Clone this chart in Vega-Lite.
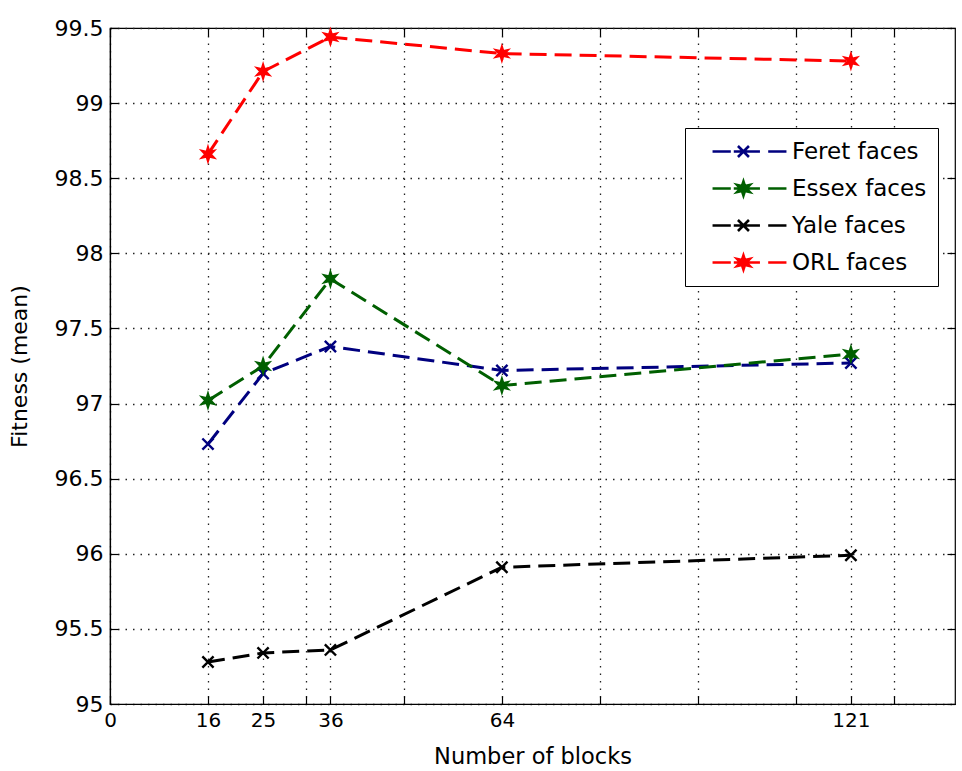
{
  "$schema": "https://vega.github.io/schema/vega-lite/v6.json",
  "width": 845,
  "height": 676,
  "autosize": {"type": "none"},
  "padding": {"left": 110, "top": 28, "right": 7, "bottom": 67},
  "background": "white",
  "config": {
    "font": "DejaVu Sans",
    "view": {"stroke": "black", "strokeWidth": 1.2},
    "axis": {
      "domainColor": "black",
      "domainWidth": 1.2,
      "tickColor": "black",
      "tickWidth": 1.2,
      "tickSize": 8,
      "labelColor": "black",
      "titleColor": "black",
      "titleFontWeight": "normal",
      "gridColor": "#222222",
      "gridDash": [1.5, 6],
      "gridWidth": 1.3,
      "gridOpacity": 1
    }
  },
  "data": {
    "values": [
      {"blocks": 16, "fitness": 96.73, "series": "Feret faces"},
      {"blocks": 25, "fitness": 97.20, "series": "Feret faces"},
      {"blocks": 36, "fitness": 97.38, "series": "Feret faces"},
      {"blocks": 64, "fitness": 97.22, "series": "Feret faces"},
      {"blocks": 121, "fitness": 97.27, "series": "Feret faces"},
      {"blocks": 16, "fitness": 97.02, "series": "Essex faces"},
      {"blocks": 25, "fitness": 97.25, "series": "Essex faces"},
      {"blocks": 36, "fitness": 97.83, "series": "Essex faces"},
      {"blocks": 64, "fitness": 97.12, "series": "Essex faces"},
      {"blocks": 121, "fitness": 97.33, "series": "Essex faces"},
      {"blocks": 16, "fitness": 95.28, "series": "Yale faces"},
      {"blocks": 25, "fitness": 95.34, "series": "Yale faces"},
      {"blocks": 36, "fitness": 95.36, "series": "Yale faces"},
      {"blocks": 64, "fitness": 95.91, "series": "Yale faces"},
      {"blocks": 121, "fitness": 95.99, "series": "Yale faces"},
      {"blocks": 16, "fitness": 98.66, "series": "ORL faces"},
      {"blocks": 25, "fitness": 99.21, "series": "ORL faces"},
      {"blocks": 36, "fitness": 99.44, "series": "ORL faces"},
      {"blocks": 64, "fitness": 99.33, "series": "ORL faces"},
      {"blocks": 121, "fitness": 99.28, "series": "ORL faces"}
    ]
  },
  "layer": [
    {
      "mark": {"type": "line", "strokeDash": [17, 8], "strokeWidth": 3},
      "encoding": {
        "x": {
          "field": "blocks",
          "type": "quantitative",
          "scale": {"domain": [0, 138], "nice": false, "zero": false},
          "axis": {
            "values": [0, 16, 25, 32, 36, 48, 64, 80, 96, 112, 121, 128],
            "labelExpr": "indexof([0, 16, 25, 36, 64, 121], datum.value) >= 0 ? datum.label : ''",
            "labelOverlap": false,
            "labelFlush": false,
            "labelFontSize": 20,
            "labelPadding": 6,
            "ticks": false,
            "title": "Number of blocks",
            "titleFontSize": 22.5,
            "titlePadding": 15,
            "grid": true
          }
        },
        "y": {
          "field": "fitness",
          "type": "quantitative",
          "scale": {"domain": [95, 99.5], "nice": false, "zero": false},
          "axis": {
            "values": [95, 95.5, 96, 96.5, 97, 97.5, 98, 98.5, 99, 99.5],
            "format": "~g",
            "labelOverlap": false,
            "labelFlush": false,
            "labelFontSize": 22,
            "labelPadding": 7,
            "ticks": false,
            "title": "Fitness (mean)",
            "titleFontSize": 22,
            "titlePadding": 23,
            "grid": true
          }
        },
        "color": {
          "field": "series",
          "type": "nominal",
          "scale": {
            "domain": ["Feret faces", "Essex faces", "Yale faces", "ORL faces"],
            "range": ["#00007f", "#005f00", "#000000", "#ff0000"]
          },
          "legend": {
            "orient": "none",
            "legendX": 575,
            "legendY": 100,
            "title": null,
            "direction": "vertical",
            "fillColor": "white",
            "strokeColor": "black",
            "padding": 11,
            "symbolSize": 484,
            "symbolStrokeWidth": 2.6,
            "symbolOffset": 41,
            "labelFontSize": 23,
            "labelOffset": 30,
            "rowPadding": 12,
            "encode": {
              "symbols": {
                "update": {
                  "shape": {"signal": "(datum.value === 'Feret faces' || datum.value === 'Yale faces') ? 'M-3.36,0H-1.7M-1.43,0H0.95M1.7,0H3.36M-1.05,-0.5L-0.05,0.5M-1.05,0.5L-0.05,-0.5' : 'M-3.36,0H-1.7M-1.43,0H0.95M1.7,0H3.36M-0.55,-0.65L-0.41,-0.22L0.02,-0.32L-0.29,0L0.02,0.32L-0.41,0.22L-0.55,0.65L-0.69,0.22L-1.12,0.32L-0.81,0L-1.12,-0.32L-0.69,-0.22Z'"},
                  "fill": {"signal": "scale('color', datum.value)"},
                  "stroke": {"signal": "scale('color', datum.value)"},
                  "strokeDash": {"value": []},
                  "strokeWidth": {"value": 2.6}
                }
              }
            }
          }
        }
      }
    },
    {
      "transform": [{"filter": "datum.series === 'Feret faces' || datum.series === 'Yale faces'"}],
      "mark": {
        "type": "point",
        "shape": "M-0.8,-0.8L0.8,0.8M-0.8,0.8L0.8,-0.8",
        "size": 196,
        "strokeWidth": 2.4,
        "filled": false,
        "opacity": 1
      },
      "encoding": {
        "x": {
          "field": "blocks",
          "type": "quantitative",
          "axis": {
            "orient": "top",
            "offset": -676,
            "values": [0, 16, 25, 32, 36, 48, 64, 80, 96, 112, 121, 128],
            "labels": false,
            "title": null,
            "grid": false,
            "domain": false
          }
        },
        "y": {
          "field": "fitness",
          "type": "quantitative",
          "axis": {
            "orient": "right",
            "offset": -845,
            "values": [95, 95.5, 96, 96.5, 97, 97.5, 98, 98.5, 99, 99.5],
            "labels": false,
            "title": null,
            "grid": false,
            "domain": false
          }
        },
        "stroke": {
          "field": "series",
          "type": "nominal",
          "scale": {
            "domain": ["Feret faces", "Essex faces", "Yale faces", "ORL faces"],
            "range": ["#00007f", "#005f00", "#000000", "#ff0000"]
          },
          "legend": null
        }
      }
    },
    {
      "transform": [{"filter": "datum.series === 'Essex faces' || datum.series === 'ORL faces'"}],
      "mark": {
        "type": "point",
        "shape": "M0,-1L0.2,-0.346L0.866,-0.5L0.4,0L0.866,0.5L0.2,0.346L0,1L-0.2,0.346L-0.866,0.5L-0.4,0L-0.866,-0.5L-0.2,-0.346Z",
        "size": 256,
        "strokeWidth": 1.5,
        "filled": true,
        "opacity": 1
      },
      "encoding": {
        "x": {
          "field": "blocks",
          "type": "quantitative",
          "axis": {
            "orient": "bottom",
            "offset": -676,
            "values": [0, 16, 25, 32, 36, 48, 64, 80, 96, 112, 121, 128],
            "labels": false,
            "title": null,
            "grid": false,
            "domain": false
          }
        },
        "y": {
          "field": "fitness",
          "type": "quantitative",
          "axis": {
            "orient": "left",
            "offset": -845,
            "values": [95, 95.5, 96, 96.5, 97, 97.5, 98, 98.5, 99, 99.5],
            "labels": false,
            "title": null,
            "grid": false,
            "domain": false
          }
        },
        "fill": {
          "field": "series",
          "type": "nominal",
          "scale": {
            "domain": ["Feret faces", "Essex faces", "Yale faces", "ORL faces"],
            "range": ["#00007f", "#005f00", "#000000", "#ff0000"]
          },
          "legend": null
        },
        "stroke": {
          "field": "series",
          "type": "nominal",
          "scale": {
            "domain": ["Feret faces", "Essex faces", "Yale faces", "ORL faces"],
            "range": ["#00007f", "#005f00", "#000000", "#ff0000"]
          },
          "legend": null
        }
      }
    }
  ],
  "resolve": {"axis": {"x": "independent", "y": "independent"}}
}
